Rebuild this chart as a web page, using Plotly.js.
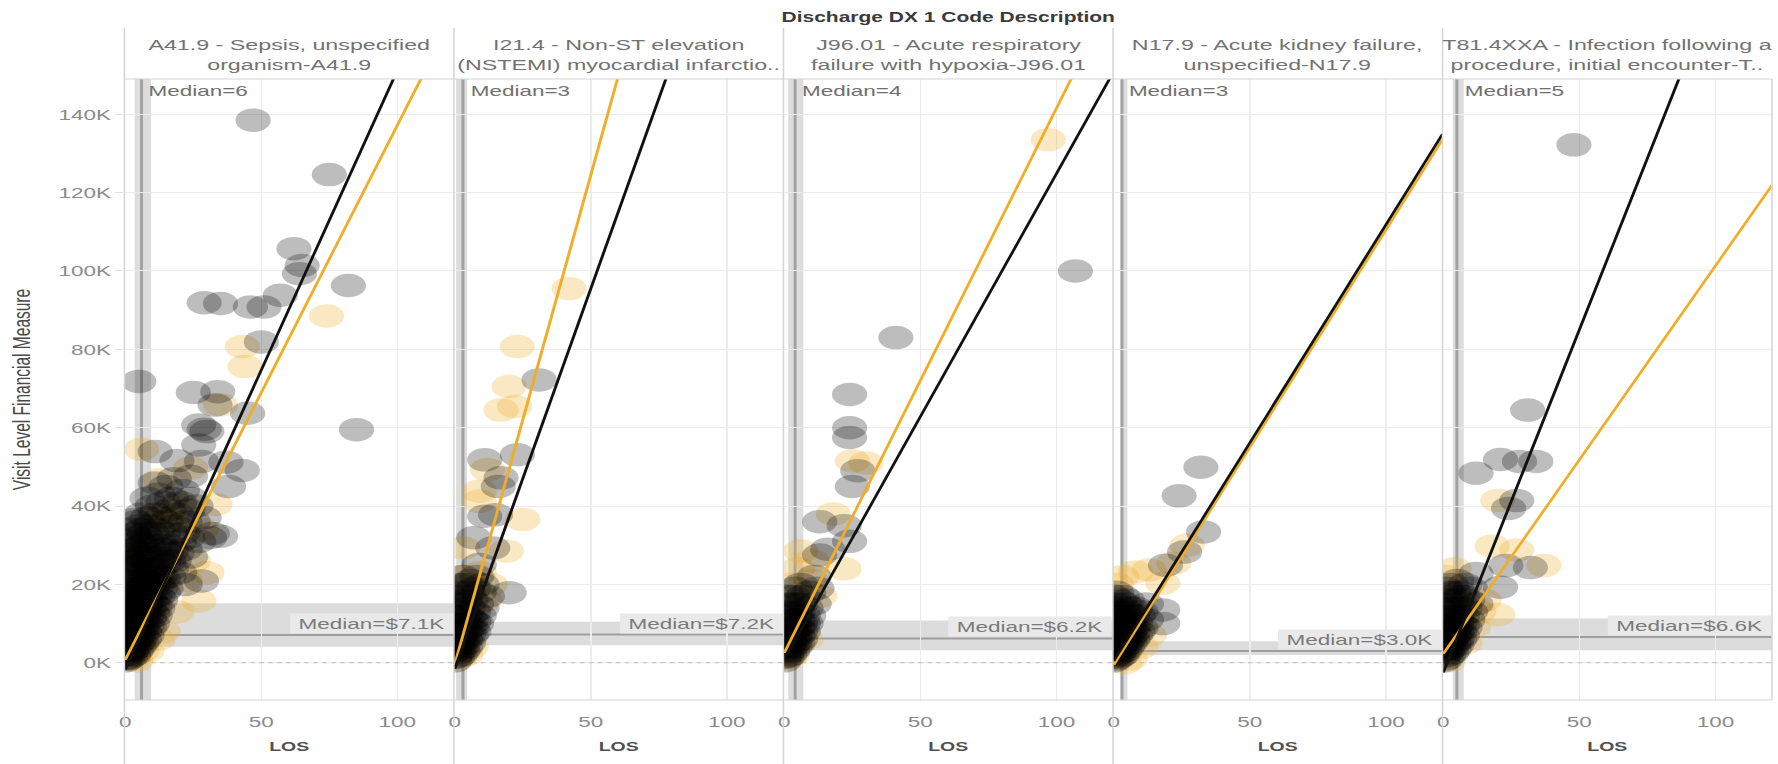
<!DOCTYPE html>
<html>
<head>
<meta charset="utf-8">
<script src="https://cdn.plot.ly/plotly-3.0.1.min.js"></script>
<style>
  html, body { margin: 0; padding: 0; background: #ffffff; overflow: hidden; }
  #chart { width: 1186px; height: 764px; transform-origin: 0 0; }
</style>
</head>
<body>
<div id="chart"></div>
<script>
// ---- Panel headers (Discharge DX 1 Code Description) ----
const headerLines = [
  ["A41.9 - Sepsis, unspecified", "organism-A41.9"],
  ["I21.4 - Non-ST elevation", "(NSTEMI) myocardial infarctio.."],
  ["J96.01 - Acute respiratory", "failure with hypoxia-J96.01"],
  ["N17.9 - Acute kidney failure,", "unspecified-N17.9"],
  ["T81.4XXA - Infection following a", "procedure, initial encounter-T.."]
];

// ---- Reference lines ----
const losMedians = [6, 3, 4, 3, 5];
const losBandLow = [3.5, 0.5, 1.5, 2.5, 3.5];
const losBandHigh = [9.5, 4.5, 7, 5, 7.5];
const costMedians = [7.1, 7.2, 6.2, 3.0, 6.6];      // thousands of $
const costBandLow = [4.1, 4.5, 3.2, 2.0, 3.2];
const costBandHigh = [15.2, 10.5, 10.8, 5.5, 11.3];

// ---- Linear trend lines (cost in K = intercept + slope * LOS) ----
const grayTrendIntercept = [-1.8, -1.5, 0.8, 0.5, -2.5];
const grayTrendSlope = [1.53, 1.94, 1.24, 1.113, 1.75];
const goldTrendIntercept = [0.7, -0.5, 2.5, -0.5, 2.3];
const goldTrendSlope = [1.365, 2.5, 1.39, 1.11, 0.99];

// ---- Axis ticks ----
const xTickVals = [0, 50, 100];
const xTickText = ["0", "50", "100"];
const yTickVals = [0, 20, 40, 60, 80, 100, 120, 140];
const yTickText = ["0K", "20K", "40K", "60K", "80K", "100K", "120K", "140K"];

// ---- Visits: [LOS, [visit cost in K, ...]] ----
const p1Gray = [
  [0, [0.5, 1, 2, 3, 4, 6, 7.5, 9, 12, 15, 18, 21, 25, 28]],
  [1, [1, 2, 3, 5, 6.5, 8, 9.5, 11, 14, 17, 20, 24, 27, 31]],
  [2, [1.5, 3, 4, 5.5, 7, 8.5, 10, 11.5, 13, 16, 19, 23, 26, 30, 34]],
  [3, [2, 3.5, 5, 6.5, 8, 10, 12, 13.5, 15, 18, 22, 26, 29, 33, 36.6]],
  [4, [3, 4.5, 6, 7.5, 9, 11, 13, 15, 17, 21, 25, 28, 32, 36]],
  [5, [4, 5.5, 7, 9, 11, 13, 15, 17, 19, 23, 27, 31, 35, 71.8]],
  [6, [5, 7, 9, 11, 13, 15, 17, 19, 21, 25, 30, 34, 38]],
  [7, [6, 8, 10, 12, 14, 16.5, 19, 21, 23, 28, 33]],
  [8, [7, 9.5, 12, 14, 16, 18.5, 21, 26, 31, 31.9, 37, 42]],
  [9, [9, 11.5, 14, 16, 18, 20.5, 24, 29, 35]],
  [10, [10, 12.5, 15, 18, 21, 24, 27, 33, 40]],
  [11, [12, 14.5, 17, 20.5, 24, 30, 38, 45.9, 53.9]],
  [12, [14, 17, 20, 23, 27, 34, 43]],
  [13, [16, 19, 22, 26, 30, 37]],
  [14, [18, 21.5, 25, 29, 33, 41]],
  [15, [19, 28, 36, 45]],
  [16, [22, 26, 30, 39]],
  [17, [24, 28.5, 33, 42]],
  [18, [26, 35, 47]],
  [19, [28, 38, 51.6]],
  [20, [23, 31, 41]],
  [21, [33, 44]],
  [22, [20, 29, 36]],
  [23, [32, 39]],
  [24, [27, 42, 47.6]],
  [25, [36, 69]],
  [26, [40]],
  [27, [31, 55.6, 60.7]],
  [28, [20.9, 51.4]],
  [29, [37, 59.6, 91.9]],
  [30, [59]],
  [31, [31.9]],
  [32, [33]],
  [33, [65.8]],
  [34, [69.2]],
  [35, [32.3, 91.7]],
  [37, [51.2]],
  [38, [45]],
  [43, [49.1]],
  [45, [63.7]],
  [46, [90.8]],
  [47, [138.5]],
  [50, [81.9]],
  [51, [90.8]],
  [57, [93.8]],
  [62, [105.7]],
  [64, [99.3]],
  [65, [101.4]],
  [75, [124.6]],
  [82, [96.3]],
  [85, [59.5]]
];
const p1Gold = [
  [1, [2]], [2, [29]], [3, [1]], [4, [0.5]], [6, [3, 54.5]], [8, [3]], [9, [20]],
  [12, [6, 38]], [13, [46.8]], [14, [8]], [16, [37]], [17, [36]], [19, [13]],
  [20, [40.4]], [22, [21]], [24, [49.7]], [25, [26]], [27, [15.8]], [28, [34]],
  [30, [23]], [33, [40.4]], [35, [65.8]], [43, [80.7]], [44, [75.6]], [74, [88.5]]
];

const p2Gray = [
  [0, [0.5, 1.5, 3, 4.5, 6, 9, 12, 16]],
  [1, [1.5, 2.5, 4, 5.5, 7, 10, 14, 18]],
  [2, [2, 3.5, 5, 6.5, 8, 12, 15, 20]],
  [3, [3, 4.5, 6, 8, 10, 13, 17, 22]],
  [4, [4, 6, 8, 10, 12, 16, 20]],
  [5, [5, 7, 9, 11.5, 14, 18]],
  [6, [7, 9, 11, 16, 21]],
  [7, [8, 10.5, 13, 19, 31.9]],
  [8, [10, 15, 22]],
  [9, [12, 18, 25.1]],
  [10, [14, 20]],
  [11, [37.4, 51.8]],
  [12, [17]],
  [14, [29.3]],
  [15, [37.8]],
  [16, [45]],
  [17, [47.2]],
  [20, [17.9]],
  [23, [53.1]],
  [31, [72.2]]
];
const p2Gold = [
  [1, [1]], [2, [22]], [3, [29.3]], [4, [2]], [6, [4]], [9, [23, 41.2, 43.8]],
  [11, [16]], [12, [49.3]], [13, [20]], [17, [64.5]], [19, [28.5]], [20, [70.5]],
  [22, [65.4]], [23, [80.7]], [25, [36.6]], [42, [95.5]]
];

const p3Gray = [
  [0, [0.5, 1.5, 3, 4.5, 6, 9, 12, 15]],
  [1, [1.5, 2.5, 4, 5.5, 7, 10, 13, 17]],
  [2, [2, 3.5, 5, 6.5, 8, 11, 15]],
  [3, [3, 4.5, 6, 7.5, 9, 13, 17]],
  [4, [4, 5.5, 7, 9, 11, 15, 19]],
  [5, [5, 7, 9, 11, 13]],
  [6, [6, 8, 10, 15, 20]],
  [7, [8, 10, 12, 17]],
  [8, [10, 14]],
  [9, [12, 18]],
  [11, [15, 22]],
  [12, [19]],
  [13, [27.5, 36]],
  [16, [29]],
  [22, [35]],
  [24, [31, 57.5, 60, 68.5]],
  [25, [45]],
  [27, [49]],
  [41, [83]],
  [107, [100]]
];
const p3Gold = [
  [1, [1]], [2, [20]], [3, [2]], [5, [24]], [6, [28.5]], [8, [6]], [10, [21, 26]],
  [13, [17]], [18, [38]], [22, [24]], [25, [51.5]], [30, [51]], [97, [133.5]]
];

const p4Gray = [
  [0, [0.5, 1.5, 2.5, 3.5, 5, 6.5, 8, 11, 14, 17]],
  [1, [1, 2, 3.5, 4.5, 6, 7.5, 9, 12, 15, 18]],
  [2, [1.5, 2.5, 4, 5.5, 7, 8.5, 10, 13, 16]],
  [3, [2, 3.5, 5, 6.5, 8, 11, 14, 17]],
  [4, [3, 4.5, 6, 7.5, 9, 12, 15]],
  [5, [4, 5.5, 7, 8.5, 10, 13, 16]],
  [6, [5, 6.5, 8, 9.5, 11, 14]],
  [7, [6, 7.5, 9, 12]],
  [8, [7, 10, 14]],
  [9, [8, 12]],
  [10, [9, 13]],
  [12, [11, 15]],
  [18, [10, 13.5]],
  [19, [24.9]],
  [24, [42.6]],
  [26, [28.3]],
  [32, [49.9]],
  [33, [33.4]]
];
const p4Gold = [
  [0, [13]], [1, [20]], [3, [22]], [4, [0]], [6, [1]], [8, [23.2]], [10, [4]],
  [13, [7, 23.7]], [18, [20.3]], [22, [25.4]], [27, [30]]
];

const p5Gray = [
  [0, [0.5, 1.5, 3, 4.5, 6, 7.5, 9, 12, 15]],
  [1, [1, 2.5, 4, 5.5, 7, 8.5, 10, 13, 16, 19]],
  [2, [2, 3.5, 5, 6.5, 8, 9.5, 11, 14, 18]],
  [3, [2.5, 4, 6, 7.5, 9, 12, 16, 20]],
  [4, [3.5, 5, 7, 8.5, 10, 14, 18]],
  [5, [4.5, 6, 8, 10, 12, 16, 21]],
  [6, [6, 8, 10, 14, 18]],
  [7, [7, 9.5, 12, 17]],
  [8, [9, 14, 20]],
  [9, [11, 16]],
  [10, [13, 19]],
  [12, [15, 22.8, 48.4]],
  [21, [19.3, 51.9]],
  [23, [24.8]],
  [24, [39.4]],
  [27, [41.4]],
  [28, [51.4]],
  [31, [64.5]],
  [32, [24.3]],
  [34, [51.4]],
  [48, [132.2]]
];
const p5Gold = [
  [1, [22]], [2, [0.5]], [4, [24]], [8, [5]], [11, [9]], [13, [13]], [15, [16]],
  [18, [29.8]], [20, [12.3, 41.4]], [27, [28.8]], [37, [24.8]]
];

const grayVisits = [p1Gray, p2Gray, p3Gray, p4Gray, p5Gray];
const goldVisits = [p1Gold, p2Gold, p3Gold, p4Gold, p5Gold];

// ---- Drawing ----
const W = 1186, H = 764;
const chartEl = document.getElementById('chart');
chartEl.style.transform = 'scaleX(' + (1778 / W) + ')';

const FONT = 'Liberation Sans, Arial, sans-serif';
const M = { l: 83, r: 4, t: 79, b: 64 };
const plotH = H - M.t - M.b;
const pyFromTop = px => (H - M.b - px) / plotH;   // paper y for a pixel row
const xRange = [-0.3, 120.8];
const yRange = [-9.5, 149];
const nPanels = headerLines.length;

function columnsToXY(cols) {
  const x = [], y = [];
  cols.forEach(([los, costs]) => costs.forEach(c => { x.push(los); y.push(c); }));
  return { x, y };
}

const traces = [];
const shapes = [];
const annotations = [];
const layout = {
  width: W, height: H,
  margin: M,
  paper_bgcolor: '#ffffff',
  plot_bgcolor: '#ffffff',
  showlegend: false,
  hovermode: false,
  font: { family: FONT, size: 15, color: '#888888' },
  title: {
    text: 'Discharge DX 1 Code Description',
    font: { family: FONT, size: 14, color: '#3a3a3a', weight: 'bold' },
    xref: 'paper', x: 0.5, xanchor: 'center',
    yref: 'container', y: 1 - 17 / H, yanchor: 'middle'
  }
};

for (let i = 0; i < nPanels; i++) {
  const sfx = i === 0 ? '' : String(i + 1);
  const xa = 'x' + sfx, ya = 'y' + sfx;

  layout['xaxis' + sfx] = {
    domain: [i / nPanels, (i + 1) / nPanels],
    range: xRange, anchor: ya, automargin: false,
    tickvals: xTickVals, ticktext: xTickText,
    ticks: 'outside', ticklen: 8, tickcolor: 'rgba(0,0,0,0)',
    tickfont: { family: FONT, size: 15, color: '#8a8a8a' },
    showgrid: true, gridcolor: '#ececec', gridwidth: 1,
    zeroline: false, showline: false, fixedrange: true,
    title: { text: 'LOS', standoff: 12,
             font: { family: FONT, size: 13, color: '#505050', weight: 'bold' } }
  };
  layout['yaxis' + sfx] = {
    domain: [0, 1], range: yRange, anchor: xa, automargin: false,
    tickvals: yTickVals, ticktext: yTickText,
    showticklabels: i === 0,
    ticks: i === 0 ? 'outside' : '', ticklen: 5, tickcolor: '#e2e2e2',
    tickfont: { family: FONT, size: 15, color: '#8a8a8a' },
    showgrid: true, gridcolor: '#ececec', gridwidth: 1,
    zeroline: false, showline: false, fixedrange: true,
    title: i === 0 ? { text: 'Visit Level Financial Measure', standoff: 14,
                       font: { family: FONT, size: 15.5, color: '#4a4a4a' } }
                   : { text: '' }
  };

  // dotted zero line, drawn under the visits
  traces.push({
    type: 'scatter', mode: 'lines', xaxis: xa, yaxis: ya,
    x: xRange, y: [0, 0],
    line: { color: '#bdbdbd', width: 1, dash: 'dot' }
  });

  // visits: gold group underneath, gray group on top
  const o = columnsToXY(goldVisits[i]);
  traces.push({
    type: 'scatter', mode: 'markers', xaxis: xa, yaxis: ya,
    x: o.x, y: o.y,
    marker: { size: 23.5, color: 'rgba(238,172,38,0.28)', line: { width: 0 } }
  });
  const g = columnsToXY(grayVisits[i]);
  traces.push({
    type: 'scatter', mode: 'markers', xaxis: xa, yaxis: ya,
    x: g.x, y: g.y,
    marker: { size: 23.5, color: 'rgba(0,0,0,0.26)', line: { width: 0 } }
  });

  // trend lines
  const tx = [0, xRange[1]];
  traces.push({
    type: 'scatter', mode: 'lines', xaxis: xa, yaxis: ya,
    x: tx, y: tx.map(v => goldTrendIntercept[i] + goldTrendSlope[i] * v),
    line: { color: '#efad28', width: 2 }
  });
  traces.push({
    type: 'scatter', mode: 'lines', xaxis: xa, yaxis: ya,
    x: tx, y: tx.map(v => grayTrendIntercept[i] + grayTrendSlope[i] * v),
    line: { color: '#111111', width: 2 }
  });

  // median bands and lines
  shapes.push({ type: 'rect', layer: 'below', xref: xa, yref: ya + ' domain',
    x0: losBandLow[i], x1: losBandHigh[i], y0: 0, y1: 1,
    fillcolor: '#dcdcdc', line: { width: 0 } });
  shapes.push({ type: 'rect', layer: 'below', xref: xa + ' domain', yref: ya,
    x0: 0, x1: 1, y0: costBandLow[i], y1: costBandHigh[i],
    fillcolor: '#dcdcdc', line: { width: 0 } });
  shapes.push({ type: 'line', layer: 'below', xref: xa, yref: ya + ' domain',
    x0: losMedians[i], x1: losMedians[i], y0: 0, y1: 1,
    line: { color: '#a2a2a2', width: 2 } });
  shapes.push({ type: 'line', layer: 'below', xref: xa + ' domain', yref: ya,
    x0: 0, x1: 1, y0: costMedians[i], y1: costMedians[i],
    line: { color: '#9e9e9e', width: 2 } });

  // median labels
  annotations.push({
    xref: xa, yref: ya + ' domain', x: losMedians[i], y: 1,
    xanchor: 'left', yanchor: 'top', xshift: 3, yshift: -1, showarrow: false,
    text: 'Median=' + losMedians[i],
    font: { family: FONT, size: 15, color: '#707070' }
  });
  annotations.push({
    xref: xa + ' domain', yref: ya, x: 1, y: costMedians[i],
    xanchor: 'right', yanchor: 'bottom', yshift: 1, showarrow: false,
    bgcolor: '#e9e9e9', borderpad: 1,
    text: '\u00a0Median=$' + costMedians[i].toFixed(1) + 'K\u00a0',
    font: { family: FONT, size: 15, color: '#7a7a7a' }
  });

  // header
  annotations.push({
    xref: 'paper', yref: 'paper', x: (i + 0.5) / nPanels, y: pyFromTop(54),
    xanchor: 'center', yanchor: 'middle', showarrow: false,
    text: headerLines[i].join('<br>'),
    font: { family: FONT, size: 15.5, color: '#727272' }
  });
}

// panel frame: separators, header rule, bottom rule
for (let b = 0; b <= nPanels; b++) {
  const last = b === nPanels;
  shapes.push({ type: 'line', layer: 'above', xref: 'paper', yref: 'paper',
    x0: b / nPanels, x1: b / nPanels,
    y0: last ? 0 : pyFromTop(H), y1: last ? 1 : pyFromTop(28),
    line: { color: '#d4d4d4', width: 1 } });
}
shapes.push({ type: 'line', layer: 'above', xref: 'paper', yref: 'paper',
  x0: 0, x1: 1, y0: 1, y1: 1, line: { color: '#d4d4d4', width: 1 } });
shapes.push({ type: 'line', layer: 'above', xref: 'paper', yref: 'paper',
  x0: 0, x1: 1, y0: 0, y1: 0, line: { color: '#d4d4d4', width: 1 } });

layout.shapes = shapes;
layout.annotations = annotations;

Plotly.newPlot(chartEl, traces, layout, { staticPlot: true, displayModeBar: false });
</script>
</body>
</html>
